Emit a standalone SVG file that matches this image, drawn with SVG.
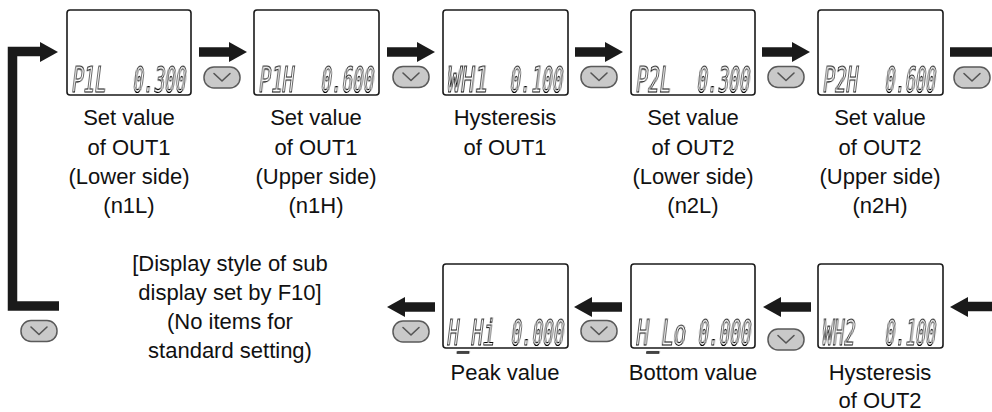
<svg xmlns="http://www.w3.org/2000/svg" width="992" height="412" viewBox="0 0 992 412">
<style>
.box{fill:#fff;stroke:#1a1a1a;stroke-width:1.6}
.seg{font-family:"DejaVu Sans Mono",monospace;font-size:36px;fill:#fff;stroke:#000;stroke-width:1.15;filter:url(#gray)}
.cap{font-family:"Liberation Sans",Arial,sans-serif;font-size:22px;fill:#111;text-anchor:middle}
.shaft{stroke:#1a1a1a;stroke-width:9.5;fill:none}
.head{fill:#1a1a1a}
.pill{fill:#c9c9c9;stroke:#5a5a5a;stroke-width:1.5}
.chev{fill:none;stroke:#555;stroke-width:1.6;stroke-linecap:round;stroke-linejoin:round}
</style>
<defs>
<filter id="gray" x="-25%" y="-40%" width="150%" height="180%"><feColorMatrix type="saturate" values="0"/></filter>
<g id="btn"><rect class="pill" x="-18" y="-10.5" width="36" height="21" rx="10"/><path class="chev" d="M-8,-4 L0,3.5 L8,-4"/></g>
<g id="arR"><path class="shaft" d="M0,0 H31"/><polygon class="head" points="30,-10 48,0 30,10"/></g>
<g id="arL"><path class="shaft" d="M48,0 H17"/><polygon class="head" points="18,-10 0,0 18,10"/></g>
</defs>

<g id="connectors">
<path class="shaft" d="M59,306 H12.5 V51.5 H42" stroke-linejoin="miter"/>
<polygon class="head" points="40,42 58,52 40,62"/>
<use href="#btn" x="39" y="331"/>
<use href="#arR" x="199" y="52"/><use href="#btn" x="222" y="77.5"/>
<use href="#arR" x="387" y="52"/><use href="#btn" x="411" y="77"/>
<use href="#arR" x="575" y="52"/><use href="#btn" x="599" y="77"/>
<use href="#arR" x="762" y="52"/><use href="#btn" x="786" y="77"/>
<path class="shaft" d="M950,52 H992"/><use href="#btn" x="972" y="77.5"/>
<path class="shaft" d="M968,306.5 H992"/><polygon class="head" points="968,297 950,307 968,317"/>
<use href="#arL" x="763" y="307"/><use href="#btn" x="786" y="339.5"/>
<use href="#arL" x="574" y="307"/><use href="#btn" x="599" y="331"/>
<use href="#arL" x="387" y="307"/><use href="#btn" x="411" y="331.5"/>
</g>

<g id="n1L">
<rect class="box" x="67" y="10" width="124" height="85" rx="3"/>
<text class="seg" transform="translate(71 92) skewX(-7)" textLength="34" lengthAdjust="spacingAndGlyphs">P1L</text>
<text class="seg" transform="translate(132 92) skewX(-7)" textLength="53" lengthAdjust="spacingAndGlyphs">0.300</text>
<text class="cap" x="129" y="125">Set value</text>
<text class="cap" x="129" y="155">of OUT1</text>
<text class="cap" x="129" y="184">(Lower side)</text>
<text class="cap" x="129" y="213">(n1L)</text>
</g>
<g id="n1H">
<rect class="box" x="254" y="10" width="125" height="85" rx="3"/>
<text class="seg" transform="translate(258 92) skewX(-7)" textLength="35" lengthAdjust="spacingAndGlyphs">P1H</text>
<text class="seg" transform="translate(320 92) skewX(-7)" textLength="53" lengthAdjust="spacingAndGlyphs">0.600</text>
<text class="cap" x="316" y="125">Set value</text>
<text class="cap" x="316" y="155">of OUT1</text>
<text class="cap" x="316" y="184">(Upper side)</text>
<text class="cap" x="316" y="213">(n1H)</text>
</g>
<g id="hys1">
<rect class="box" x="443" y="10" width="125" height="85" rx="3"/>
<text class="seg" transform="translate(446 92) skewX(-7)" textLength="41" lengthAdjust="spacingAndGlyphs">WH1</text>
<text class="seg" transform="translate(509 92) skewX(-7)" textLength="53" lengthAdjust="spacingAndGlyphs">0.100</text>
<text class="cap" x="505" y="125">Hysteresis</text>
<text class="cap" x="505" y="155">of OUT1</text>
</g>
<g id="n2L">
<rect class="box" x="631" y="10" width="124" height="85" rx="3"/>
<text class="seg" transform="translate(635 92) skewX(-7)" textLength="35" lengthAdjust="spacingAndGlyphs">P2L</text>
<text class="seg" transform="translate(696 92) skewX(-7)" textLength="53" lengthAdjust="spacingAndGlyphs">0.300</text>
<text class="cap" x="693" y="125">Set value</text>
<text class="cap" x="693" y="155">of OUT2</text>
<text class="cap" x="693" y="184">(Lower side)</text>
<text class="cap" x="693" y="213">(n2L)</text>
</g>
<g id="n2H">
<rect class="box" x="818" y="10" width="125" height="85" rx="3"/>
<text class="seg" transform="translate(822 92) skewX(-7)" textLength="35" lengthAdjust="spacingAndGlyphs">P2H</text>
<text class="seg" transform="translate(884 92) skewX(-7)" textLength="51" lengthAdjust="spacingAndGlyphs">0.600</text>
<text class="cap" x="880" y="125">Set value</text>
<text class="cap" x="880" y="155">of OUT2</text>
<text class="cap" x="880" y="184">(Upper side)</text>
<text class="cap" x="880" y="213">(n2H)</text>
</g>
<g id="hys2">
<rect class="box" x="818" y="264" width="125" height="84" rx="3"/>
<text class="seg" transform="translate(821 345) skewX(-7)" textLength="33" lengthAdjust="spacingAndGlyphs">WH2</text>
<text class="seg" transform="translate(884 345) skewX(-7)" textLength="51" lengthAdjust="spacingAndGlyphs">0.100</text>
<text class="cap" x="880" y="380">Hysteresis</text>
<text class="cap" x="880" y="408">of OUT2</text>
</g>
<g id="bottom">
<rect class="box" x="631" y="264" width="124" height="84" rx="3"/>
<text class="seg" transform="translate(635 345) skewX(-7)" textLength="50" lengthAdjust="spacingAndGlyphs">H_Lo</text>
<text class="seg" transform="translate(697 345) skewX(-7)" textLength="53" lengthAdjust="spacingAndGlyphs">0.000</text>
<text class="cap" x="693" y="380">Bottom value</text>
</g>
<g id="peak">
<rect class="box" x="443" y="264" width="125" height="84" rx="3"/>
<text class="seg" transform="translate(446 345) skewX(-7)" textLength="48" lengthAdjust="spacingAndGlyphs">H_Hi</text>
<text class="seg" transform="translate(510 345) skewX(-7)" textLength="53" lengthAdjust="spacingAndGlyphs">0.000</text>
<text class="cap" x="505" y="380">Peak value</text>
</g>
<g id="note">
<text class="cap" x="230" y="271">[Display style of sub</text>
<text class="cap" x="230" y="300">display set by F10]</text>
<text class="cap" x="230" y="329">(No items for</text>
<text class="cap" x="230" y="358">standard setting)</text>
</g>
</svg>
